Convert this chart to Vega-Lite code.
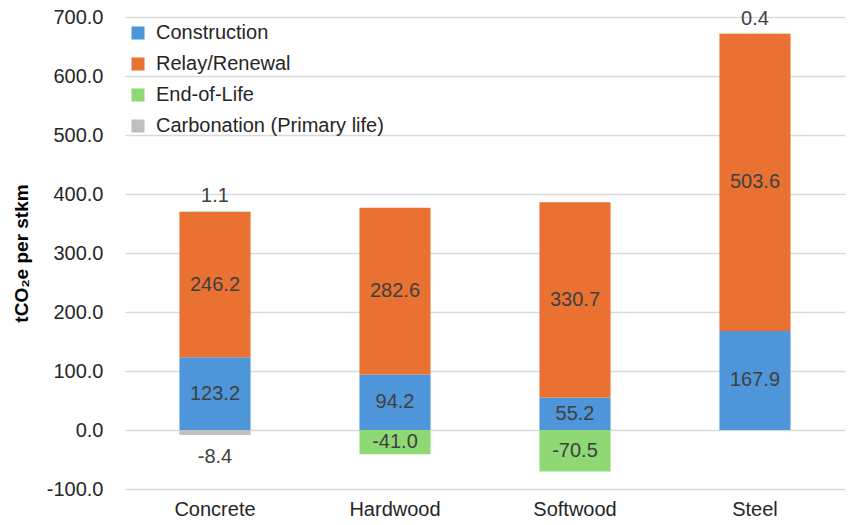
{
  "$schema": "https://vega.github.io/schema/vega-lite/v6.json",
  "width": 720,
  "height": 472,
  "autosize": {"type": "none"},
  "padding": {"left": 125, "top": 17, "right": 6, "bottom": 36},
  "background": "white",
  "config": {
    "font": "Liberation Sans",
    "view": {"stroke": null}
  },
  "data": {
    "values": [
      {"material": "Concrete", "stage": "Construction", "value": 123.2, "ord": 1},
      {"material": "Concrete", "stage": "Relay/Renewal", "value": 246.2, "ord": 2},
      {"material": "Concrete", "stage": "End-of-Life", "value": 1.1, "ord": 3},
      {"material": "Concrete", "stage": "Carbonation (Primary life)", "value": -8.4, "ord": 4},
      {"material": "Hardwood", "stage": "Construction", "value": 94.2, "ord": 1},
      {"material": "Hardwood", "stage": "Relay/Renewal", "value": 282.6, "ord": 2},
      {"material": "Hardwood", "stage": "End-of-Life", "value": -41.0, "ord": 3},
      {"material": "Softwood", "stage": "Construction", "value": 55.2, "ord": 1},
      {"material": "Softwood", "stage": "Relay/Renewal", "value": 330.7, "ord": 2},
      {"material": "Softwood", "stage": "End-of-Life", "value": -70.5, "ord": 3},
      {"material": "Steel", "stage": "Construction", "value": 167.9, "ord": 1},
      {"material": "Steel", "stage": "Relay/Renewal", "value": 503.6, "ord": 2},
      {"material": "Steel", "stage": "End-of-Life", "value": 0.4, "ord": 3}
    ]
  },
  "transform": [
    {"stack": "value", "groupby": ["material"], "sort": [{"field": "ord", "order": "ascending"}], "as": ["v0", "v1"]},
    {"calculate": "(datum.v0 + datum.v1) / 2", "as": "mid"},
    {"calculate": "datum.v0 + datum.value", "as": "vend"},
    {"calculate": "replace(format(datum.value, '.1f'), '\u2212', '-')", "as": "label"}
  ],
  "encoding": {
    "x": {
      "field": "material",
      "type": "nominal",
      "sort": ["Concrete", "Hardwood", "Softwood", "Steel"],
      "scale": {"paddingInner": 0.605, "paddingOuter": 0.3025},
      "axis": {
        "title": null,
        "labelAngle": 0,
        "labelFontSize": 20,
        "labelColor": "#262626",
        "labelPadding": 10,
        "domain": false,
        "ticks": false
      }
    }
  },
  "layer": [
    {
      "mark": {"type": "bar", "stroke": null},
      "encoding": {
        "y": {
          "field": "v0",
          "type": "quantitative",
          "scale": {"domain": [-100, 700], "nice": false},
          "axis": {
            "title": "tCO₂e per stkm",
            "titleFontSize": 19,
            "titleFontWeight": "bold",
            "titleColor": "#000000",
            "titleX": -104,
            "titleY": 236,
            "titleAngle": -90,
            "titleAlign": "center",
            "titleBaseline": "middle",
            "values": [-100, 0, 100, 200, 300, 400, 500, 600, 700],
            "labelExpr": "replace(format(datum.value, '.1f'), '\u2212', '-')",
            "labelFontSize": 20,
            "labelColor": "#262626",
            "labelPadding": 22,
            "domain": false,
            "ticks": false,
            "gridColor": "#D9D9D9",
            "gridWidth": 1.3
          }
        },
        "y2": {"field": "v1"},
        "color": {
          "field": "stage",
          "type": "nominal",
          "scale": {
            "domain": ["Construction", "Relay/Renewal", "End-of-Life", "Carbonation (Primary life)"],
            "range": ["#4E95D9", "#E97132", "#8ED973", "#BFBFBF"]
          },
          "legend": {
            "title": null,
            "orient": "none",
            "legendX": 3,
            "legendY": 6,
            "symbolType": "square",
            "symbolSize": 170,
            "symbolStrokeWidth": 0,
            "labelFontSize": 20,
            "labelColor": "#262626",
            "labelOffset": 8,
            "rowPadding": 11,
            "labelLimit": 400
          }
        }
      }
    },
    {
      "transform": [{"filter": "abs(datum.value) >= 20"}],
      "mark": {"type": "text", "fontSize": 20, "color": "#404040", "baseline": "middle"},
      "encoding": {
        "y": {"field": "mid", "type": "quantitative"},
        "text": {"field": "label", "type": "nominal"}
      }
    },
    {
      "transform": [{"filter": "datum.value >= 0 && datum.value < 20"}],
      "mark": {"type": "text", "fontSize": 20, "color": "#404040", "baseline": "alphabetic", "dy": -9},
      "encoding": {
        "y": {"field": "vend", "type": "quantitative"},
        "text": {"field": "label", "type": "nominal"}
      }
    },
    {
      "transform": [{"filter": "datum.value < 0 && datum.value > -20"}],
      "mark": {"type": "text", "fontSize": 20, "color": "#404040", "baseline": "top", "dy": 12},
      "encoding": {
        "y": {"field": "vend", "type": "quantitative"},
        "text": {"field": "label", "type": "nominal"}
      }
    }
  ]
}
